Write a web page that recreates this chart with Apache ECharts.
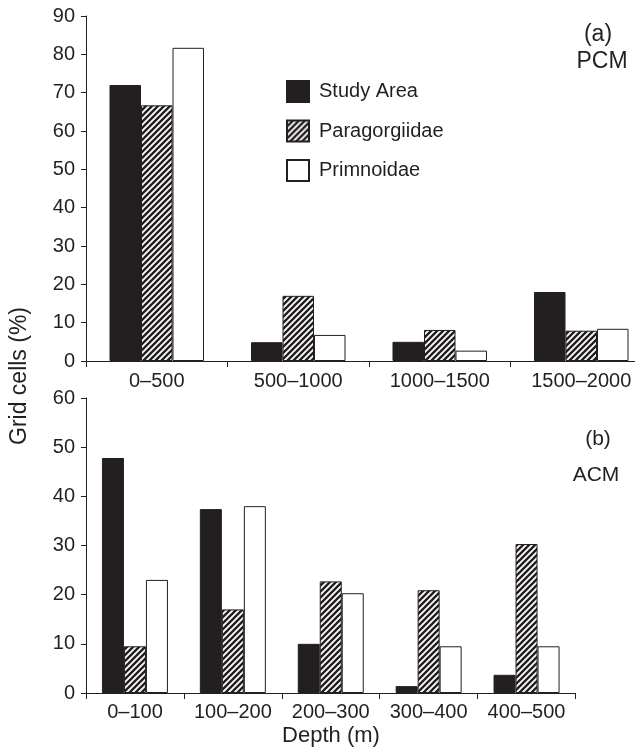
<!DOCTYPE html>
<html>
<head>
<meta charset="utf-8">
<title>Grid cells by depth</title>
<script src="https://cdn.jsdelivr.net/npm/echarts@6/dist/echarts.min.js"></script>
<style>
  html, body { margin: 0; padding: 0; background: #fff; }
  #chart { width: 635px; height: 753px; }
</style>
</head>
<body>
<div id="chart"></div>
<script>
// (a) PCM data
const pcmCategories = ['0–500', '500–1000', '1000–1500', '1500–2000'];
const pcmStudyArea = [72.0, 4.9, 5.0, 18.0];
const pcmParagorgiidae = [66.7, 17.0, 8.1, 7.9];
const pcmPrimnoidae = [81.7, 6.8, 2.7, 8.4];

// (b) ACM data
const acmCategories = ['0–100', '100–200', '200–300', '300–400', '400–500'];
const acmStudyArea = [47.8, 37.4, 10.0, 1.4, 3.7];
const acmParagorgiidae = [9.5, 17.0, 22.7, 20.9, 30.3];
const acmPrimnoidae = [23.0, 38.0, 20.3, 9.5, 9.5];

const ink = '#231f20';
const font = "'Liberation Sans', Arial, sans-serif";

// diagonal hatch for Paragorgiidae
function makeHatch() {
  const s = 6;
  const c = document.createElement('canvas');
  c.width = s; c.height = s;
  const ctx = c.getContext('2d');
  ctx.fillStyle = '#fff';
  ctx.fillRect(0, 0, s, s);
  ctx.strokeStyle = ink;
  ctx.lineWidth = 2.4;
  ctx.beginPath();
  ctx.moveTo(-1, s + 1); ctx.lineTo(s + 1, -1);
  ctx.moveTo(-2, 2); ctx.lineTo(2, -2);
  ctx.moveTo(s - 2, s + 2); ctx.lineTo(s + 2, s - 2);
  ctx.stroke();
  return c;
}
const hatch = { image: makeHatch(), repeat: 'repeat' };

const styles = {
  'Study Area': { color: ink, borderColor: ink, borderWidth: 1 },
  'Paragorgiidae': { color: hatch, borderColor: ink, borderWidth: 1 },
  'Primnoidae': { color: '#fff', borderColor: ink, borderWidth: 1 }
};

function axisX(gridIndex, data, margin) {
  return {
    type: 'category', gridIndex: gridIndex, data: data,
    axisLine: { lineStyle: { color: ink, width: 1 } },
    axisTick: { show: true, length: 6, lineStyle: { color: ink } },
    axisLabel: { color: ink, fontSize: 20, fontFamily: font, margin: margin, interval: 0, hideOverlap: false },
    splitLine: { show: false }
  };
}

function axisY(gridIndex, max) {
  return {
    type: 'value', gridIndex: gridIndex, min: 0, max: max, interval: 10,
    axisLine: { show: true, lineStyle: { color: ink, width: 1 } },
    axisTick: { show: true, length: 5, lineStyle: { color: ink } },
    axisLabel: { color: ink, fontSize: 20, fontFamily: font, margin: 11 },
    splitLine: { show: false }
  };
}

function bar(name, data, axisIndex, width) {
  return {
    name: name, type: 'bar', data: data,
    xAxisIndex: axisIndex, yAxisIndex: axisIndex,
    barWidth: width, barGap: '0%',
    itemStyle: styles[name],
    emphasis: { disabled: true },
    animation: false
  };
}

const chart = echarts.init(document.getElementById('chart'));

const option = {
  backgroundColor: '#fff',
  animation: false,
  grid: [
    { left: 86, top: 16, width: 566, height: 345, outerBoundsMode: 'none', containLabel: false },
    { left: 86, top: 398, width: 489.5, height: 295, outerBoundsMode: 'none', containLabel: false }
  ],
  legend: {
    orient: 'vertical', left: 286, top: 80, padding: 0,
    itemWidth: 22, itemHeight: 21, itemGap: 16.5,
    icon: 'rect',
    selectedMode: false,
    textStyle: { color: ink, fontSize: 20, fontFamily: font, padding: [0, 0, 0, 5] },
    data: ['Study Area', 'Paragorgiidae', 'Primnoidae']
  },
  xAxis: [axisX(0, pcmCategories, 10), axisX(1, acmCategories, 9)],
  yAxis: [axisY(0, 90), axisY(1, 60)],
  series: [
    bar('Study Area', pcmStudyArea, 0, 31.5),
    bar('Paragorgiidae', pcmParagorgiidae, 0, 31.5),
    bar('Primnoidae', pcmPrimnoidae, 0, 31.5),
    bar('Study Area', acmStudyArea, 1, 22),
    bar('Paragorgiidae', acmParagorgiidae, 1, 22),
    bar('Primnoidae', acmPrimnoidae, 1, 22)
  ],
  graphic: [
    { type: 'text', x: 20, y: 376, rotation: Math.PI / 2,
      style: { text: 'Grid cells (%)', fill: ink, font: '23px ' + font, align: 'center', verticalAlign: 'middle' } },
    { type: 'text', x: 331, y: 736,
      style: { text: 'Depth (m)', fill: ink, font: '22px ' + font, align: 'center', verticalAlign: 'middle' } },
    { type: 'text', x: 598, y: 35,
      style: { text: '(a)', fill: ink, font: '23px ' + font, align: 'center', verticalAlign: 'middle' } },
    { type: 'text', x: 602, y: 62,
      style: { text: 'PCM', fill: ink, font: '23px ' + font, align: 'center', verticalAlign: 'middle' } },
    { type: 'text', x: 598, y: 439,
      style: { text: '(b)', fill: ink, font: '21px ' + font, align: 'center', verticalAlign: 'middle' } },
    { type: 'text', x: 596, y: 475,
      style: { text: 'ACM', fill: ink, font: '21px ' + font, align: 'center', verticalAlign: 'middle' } }
  ]
};

chart.setOption(option);
</script>
</body>
</html>
